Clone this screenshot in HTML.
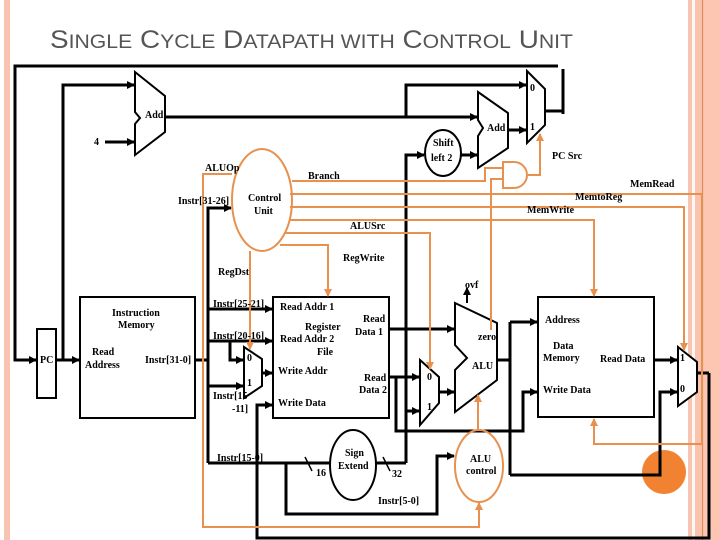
<!DOCTYPE html>
<html><head><meta charset="utf-8"><style>
html,body{margin:0;padding:0;background:#fff;}
svg{display:block;}
text{font-family:"Liberation Serif",serif;font-weight:bold;font-size:10px;fill:#000;}
</style></head><body>
<svg width="720" height="540" viewBox="0 0 720 540" xmlns="http://www.w3.org/2000/svg">
<defs>
<marker id="ab" markerWidth="8" markerHeight="8" refX="7" refY="4" orient="auto" markerUnits="userSpaceOnUse"><path d="M0,0L8,4L0,8z" fill="#000"/></marker>
<marker id="ao" markerWidth="8" markerHeight="8" refX="7" refY="4" orient="auto" markerUnits="userSpaceOnUse"><path d="M0,0L8,4L0,8z" fill="#e8914f"/></marker>
</defs>
<rect x="4" y="0" width="6" height="540" fill="#f6c4b1"/>
<rect x="688" y="0" width="4" height="540" fill="#f6c4b1"/>
<rect x="692" y="0" width="3" height="540" fill="#fff8f2"/>
<rect x="695" y="0" width="7" height="540" fill="#f9c3b0"/>
<rect x="702" y="0" width="1.5" height="540" fill="#e08850"/>
<rect x="704" y="0" width="16" height="540" fill="#fcc6b2"/>
<text x="50" y="48" textLength="523" lengthAdjust="spacingAndGlyphs" style="font-family:'Liberation Sans',sans-serif;font-weight:normal;font-size:25px;fill:#555">S<tspan font-size="19">INGLE</tspan> C<tspan font-size="19">YCLE</tspan> D<tspan font-size="19">ATAPATH WITH</tspan> C<tspan font-size="19">ONTROL</tspan> U<tspan font-size="19">NIT</tspan></text>

<g fill="none" stroke="#000" stroke-width="3">
<polyline points="558,66 15,66 15,360 36,360" marker-end="url(#ab)"/>
<line x1="563" y1="69" x2="563" y2="114"/>
<line x1="545" y1="111" x2="562" y2="111"/>
<rect x="37" y="329" width="19" height="69" stroke-width="2"/>
<line x1="56" y1="360" x2="79" y2="360" marker-end="url(#ab)"/>
<polyline points="63,360 63,85 134,85" marker-end="url(#ab)"/>
<line x1="105" y1="142" x2="134" y2="142" marker-end="url(#ab)"/>
<path d="M135,72 L165,96 L165,132 L135,155 L135,124 L140,118 L135,112 Z" stroke-width="2" fill="#fff"/>
<line x1="165" y1="117" x2="477" y2="117" marker-end="url(#ab)"/>
<polyline points="406,117 406,85 526,85" marker-end="url(#ab)"/>
<path d="M478,92 L508,113 L508,148 L478,168 L478,136 L483,128 L478,120 Z" stroke-width="2" fill="#fff"/>
<line x1="508" y1="130" x2="526" y2="130" marker-end="url(#ab)"/>
<path d="M527,71 L545,89 L545,125 L527,143 Z" stroke-width="2" fill="#fff"/>
<ellipse cx="443" cy="153" rx="18" ry="23" stroke-width="2"/>
<polyline points="406,463 406,155 424,155" marker-end="url(#ab)"/>
<line x1="461" y1="155" x2="477" y2="155" marker-end="url(#ab)"/>
<rect x="80" y="297" width="115" height="121" stroke-width="2"/>
<polyline points="195,360 208,360"/>
<polyline points="208,463 208,208 231,208" marker-end="url(#ab)"/>
<line x1="208" y1="309" x2="272" y2="309" marker-end="url(#ab)"/>
<line x1="208" y1="341" x2="272" y2="341" marker-end="url(#ab)"/>
<polyline points="230,341 230,360 243,360" marker-end="url(#ab)"/>
<line x1="208" y1="386" x2="243" y2="386" marker-end="url(#ab)"/>
<path d="M244,347 L262,359 L262,386 L244,398 Z" stroke-width="2" fill="#fff"/>
<line x1="262" y1="373" x2="272" y2="373" marker-end="url(#ab)"/>
<rect x="273" y="297" width="116" height="121" stroke-width="2"/>
<polyline points="709,373 709,538 257,538 257,405 272,405" marker-end="url(#ab)"/>
<line x1="208" y1="463" x2="330" y2="463"/>
<polyline points="286,463 286,514 437,514 437,456 454,456" marker-end="url(#ab)"/>
<line x1="305" y1="457" x2="312" y2="471" stroke-width="1.5"/>
<ellipse cx="353" cy="465" rx="23" ry="35" stroke-width="2"/>
<line x1="376" y1="463" x2="406" y2="463"/>
<line x1="383" y1="457" x2="390" y2="471" stroke-width="1.5"/>
<line x1="389" y1="329" x2="454" y2="329" marker-end="url(#ab)"/>
<line x1="389" y1="377" x2="419" y2="377" marker-end="url(#ab)"/>
<polyline points="396,377 396,431 523,431 523,392 537,392" marker-end="url(#ab)"/>
<line x1="406" y1="411" x2="419" y2="411" marker-end="url(#ab)"/>
<path d="M420,360 L439,377 L439,403 L420,425 Z" stroke-width="2" fill="#fff"/>
<line x1="439" y1="392" x2="454" y2="392" marker-end="url(#ab)"/>
<path d="M455,303 L497,323 L497,380 L455,412 L455,370 L467,358 L455,345 Z" stroke-width="2" fill="#fff"/>
<line x1="467" y1="303" x2="467" y2="288" stroke-width="2" marker-end="url(#ab)"/>
<line x1="497" y1="360" x2="510" y2="360"/>
<polyline points="510,322 537,322" marker-end="url(#ab)"/>
<polyline points="510,322 510,475"/>
</g>
<circle cx="664" cy="472" r="22" fill="#f08232"/>
<g fill="none" stroke="#000" stroke-width="3">
<polyline points="510,475 660,475 660,392 677,392" marker-end="url(#ab)"/>
<rect x="538" y="297" width="116" height="120" stroke-width="2"/>
<line x1="654" y1="360" x2="677" y2="360" marker-end="url(#ab)"/>
<path d="M678,347 L697,362 L697,392 L678,406 Z" stroke-width="2" fill="#fff"/>
<line x1="697" y1="373" x2="709" y2="373"/>
</g>

<g fill="none" stroke="#e8914f" stroke-width="2">
<ellipse cx="262" cy="200" rx="30" ry="51" fill="#fff"/>
<polyline points="232,174 203,174 203,527 479,527 479,503" marker-end="url(#ao)"/>
<ellipse cx="479" cy="466" rx="24" ry="36"/>
<line x1="478" y1="430" x2="478" y2="395" marker-end="url(#ao)"/>
<polyline points="292,181 485,181 485,168 503,168"/>
<polyline points="491,330 491,179 503,179"/>
<path d="M503,162 L514,162 A13,13 0 0 1 514,188 L503,188 Z" fill="#fff"/>
<polyline points="528,175 540,175 540,134" marker-end="url(#ao)"/>
<polyline points="290,194 702,194"/>
<polyline points="702,194 702,444 594,444 594,419" marker-end="url(#ao)"/>
<polyline points="290,207 684,207 684,350" marker-end="url(#ao)"/>
<polyline points="289,220 594,220 594,296" marker-end="url(#ao)"/>
<polyline points="285,233 430,233 430,369" marker-end="url(#ao)"/>
<polyline points="280,245 328,245 328,296" marker-end="url(#ao)"/>
<polyline points="250,251 250,349" marker-end="url(#ao)"/>
</g>

<text x="145" y="118">Add</text>
<text x="94" y="145">4</text>
<text x="487" y="131">Add</text>
<text x="530" y="91">0</text>
<text x="530" y="130">1</text>
<text x="433" y="146" font-size="9">Shift</text>
<text x="431" y="161" font-size="9">left 2</text>
<text x="552" y="159">PC Src</text>
<text x="205" y="171">ALUOp</text>
<text x="308" y="179">Branch</text>
<text x="178" y="204">Instr[31-26]</text>
<text x="248" y="201">Control</text>
<text x="254" y="214">Unit</text>
<text x="630" y="187">MemRead</text>
<text x="575" y="200">MemtoReg</text>
<text x="527" y="213">MemWrite</text>
<text x="350" y="229">ALUSrc</text>
<text x="343" y="261">RegWrite</text>
<text x="218" y="275">RegDst</text>
<text x="465" y="288">ovf</text>
<text x="112" y="316">Instruction</text>
<text x="118" y="328">Memory</text>
<text x="92" y="355">Read</text>
<text x="85" y="368">Address</text>
<text x="145" y="363">Instr[31-0]</text>
<text x="40" y="363">PC</text>
<text x="213" y="307">Instr[25-21]</text>
<text x="213" y="339">Instr[20-16]</text>
<text x="247" y="361">0</text>
<text x="247" y="386">1</text>
<text x="213" y="399">Instr[15</text>
<text x="232" y="412">-11]</text>
<text x="280" y="310">Read Addr 1</text>
<text x="305" y="330">Register</text>
<text x="280" y="342">Read Addr 2</text>
<text x="317" y="355">File</text>
<text x="278" y="374">Write Addr</text>
<text x="278" y="406">Write Data</text>
<text x="363" y="322">Read</text>
<text x="355" y="335">Data 1</text>
<text x="364" y="381">Read</text>
<text x="359" y="393">Data 2</text>
<text x="217" y="461">Instr[15-0]</text>
<text x="316" y="476">16</text>
<text x="345" y="456">Sign</text>
<text x="338" y="469">Extend</text>
<text x="392" y="477">32</text>
<text x="378" y="504">Instr[5-0]</text>
<text x="427" y="380">0</text>
<text x="427" y="410">1</text>
<text x="478" y="340">zero</text>
<text x="472" y="369">ALU</text>
<text x="470" y="462">ALU</text>
<text x="466" y="474">control</text>
<text x="545" y="323">Address</text>
<text x="553" y="349">Data</text>
<text x="543" y="361">Memory</text>
<text x="600" y="362">Read Data</text>
<text x="543" y="393">Write Data</text>
<text x="680" y="361">1</text>
<text x="680" y="392">0</text>
</svg>
</body></html>
